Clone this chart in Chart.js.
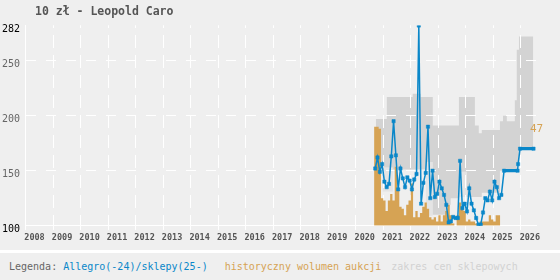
<!DOCTYPE html>
<html>
<head>
<meta charset="utf-8">
<script src="https://cdn.jsdelivr.net/npm/chart.js@4"></script>
<style>
  body { margin: 0; background: #efefef; font-family: "DejaVu Sans Mono", monospace; }
  #wrap { position: relative; width: 560px; height: 280px; }
  #chart { display: block; }
  #title { position: absolute; left: 35px; top: 4px; font-size: 11.5px; font-weight: bold; color: #555; }
  #legend { position: absolute; left: 0; top: 250px; width: 551px; height: 27px; border-top: 3px solid #fff;
            padding-left: 9px; font-size: 10px; line-height: 27px; white-space: pre; color: #666; }
</style>
</head>
<body>
<div id="wrap">
  <canvas id="chart" width="560" height="250"></canvas>
  <div id="title">10 zł - Leopold Caro</div>
  <div id="legend">Legenda: <span style="color:#0a87c9">Allegro(-24)/sklepy(25-)</span><span style="color:#d6a354;margin-left:17px">historyczny wolumen aukcji</span><span style="color:#d2d2d2;margin-left:10px">zakres cen sklepowych</span></div>
</div>
<script>
// axis ticks
const yearTicks = [2008, 2009, 2010, 2011, 2012, 2013, 2014, 2015, 2016, 2017,
                   2018, 2019, 2020, 2021, 2022, 2023, 2024, 2025, 2026];
const priceTicks = [100, 150, 200, 250, 282];

// Allegro prices, one per month starting Sep 2020
const allegroFrom = [2020, 9];
const allegroPrices = [152, 162, 149, 156, 140, 135, 138, 163, 195, 164,
                       133, 152, 143, 135, 144, 141, 133, 142, 147, 282,
                       120, 139, 148, 190, 125, 150, 126, 129, 140, 134,
                       128, 119, 103, 104, 108, 107, 107, 159, 116, 120,
                       113, 134, 120, 114, 107, 101, 101, 112, 125, 123,
                       131, 123, 140, 135, 125, 128];

// shop prices (2025-)
const shopYears = [2025.39, 2025.88, 2025.90, 2025.97, 2026.46];
const shopPrices = [150, 150, 156, 170, 170];

// auction volume per month, starting Sep 2020
const volumeFrom = [2020, 9];
const auctionVolume = [2, 47, 47, 46, 13, 12, 7, 12, 15, 12,
                       28, 18, 9, 8, 5, 10, 12, 20, 4, 7,
                       4, 6, 9, 11, 8, 4, 3, 4, 2, 5,
                       2, 5, 7, 10, 5, 1, 0, 5, 11, 9,
                       7, 2, 3, 2, 2, 1, 1, 2, 2, 2,
                       2, 5, 3, 2, 5];

// shop price range (steps)
const rangeYears = [2020.73, 2020.98, 2021.13, 2021.35, 2022.07, 2022.36, 2022.55, 2022.80,
                    2023.35, 2023.45, 2023.75, 2024.04, 2024.33, 2024.47, 2024.58, 2025.24,
                    2025.35, 2025.49, 2025.78, 2025.85, 2025.93, 2026.00, 2026.45];
const rangeHigh = [190, 197, 197, 217, 217, 220, 217, 217, 191, 191, 191, 217, 217, 191, 184, 187,
                   195, 200, 195, 214, 260, 272, 272];
const rangeLow = [150, 153, 153, 153, 151, 151, 151, 158, 110, 119, 125, 149, 126, 126, 126, 130,
                  150, 150, 150, 150, 156, 170, 170];
const rangeLowest = [150, 153, 131, 131, 151, 151, 151, 109, 110, 119, 125, 126, 126, 126, 126, 130,
                     150, 150, 150, 150, 156, 170, 170];

const BLUE = '#0a87c9';
const ORANGE = '#d6a354';

const monthMid = (from, i) => from[0] + (from[1] - 1 + i + 0.5) / 12;
const monthStart = (from, i) => from[0] + (from[1] - 1 + i) / 12;

const pricePoints = allegroPrices.map((v, i) => ({ x: monthMid(allegroFrom, i), y: v }))
  .concat(shopPrices.map((v, i) => ({ x: shopYears[i], y: v })));

const volumePoints = auctionVolume.map((v, i) => ({ x: monthStart(volumeFrom, i), y: v }));
volumePoints.push({ x: monthStart(volumeFrom, auctionVolume.length), y: auctionVolume[auctionVolume.length - 1] });

const steps = arr => arr.map((v, i) => ({ x: rangeYears[i], y: v }));
const bandOpts = { type: 'line', stepped: 'after', borderWidth: 0, pointRadius: 0 };

// redraw the grid on top of the price range band
const gridOverBand = {
  id: 'gridOverBand',
  afterDatasetDraw(chart, args) {
    if (args.index !== 2) return;
    chart.scales.x.drawGrid(chart.chartArea);
    chart.scales.y.drawGrid(chart.chartArea);
  }
};

// label with the biggest auction volume
const peakLabel = {
  id: 'peakLabel',
  afterDatasetsDraw(chart) {
    const peak = Math.max(...auctionVolume);
    const ctx = chart.ctx;
    ctx.save();
    ctx.font = '11px "DejaVu Sans Mono"';
    ctx.fillStyle = ORANGE;
    ctx.textAlign = 'left';
    ctx.textBaseline = 'middle';
    ctx.fillText(String(peak), chart.chartArea.right - 6, chart.scales.y2.getPixelForValue(peak) + 2);
    ctx.restore();
  }
};

Chart.defaults.font.family = '"DejaVu Sans Mono", monospace';

new Chart(document.getElementById('chart'), {
  type: 'line',
  data: {
    datasets: [
      {
        label: 'Allegro(-24)/sklepy(25-)',
        data: pricePoints,
        borderColor: BLUE,
        backgroundColor: BLUE,
        borderWidth: 1.5,
        pointStyle: 'rect',
        pointRadius: 2.3,
        pointBorderWidth: 0.5,
        segment: {
          borderWidth: c => (c.p0.parsed.x >= shopYears[0] && c.p0.parsed.y === c.p1.parsed.y) ? 3.2 : 1.5
        }
      },
      {
        label: 'historyczny wolumen aukcji',
        data: volumePoints,
        yAxisID: 'y2',
        stepped: 'after',
        fill: 'origin',
        backgroundColor: ORANGE,
        borderWidth: 0,
        pointRadius: 0
      },
      { ...bandOpts, label: 'zakres cen sklepowych', data: steps(rangeHigh), fill: '+1', backgroundColor: '#d3d3d3' },
      { ...bandOpts, data: steps(rangeLow), fill: false },
      { ...bandOpts, data: steps(rangeLow), fill: '+1', backgroundColor: '#e4e4e4' },
      { ...bandOpts, data: steps(rangeLowest), fill: false }
    ]
  },
  options: {
    responsive: false,
    animation: false,
    devicePixelRatio: 1,
    layout: { padding: { top: 25.5, right: 24, left: 0, bottom: 0 } },
    plugins: { legend: { display: false }, tooltip: { enabled: false }, title: { display: false } },
    elements: { line: { tension: 0 } },
    scales: {
      x: {
        type: 'linear',
        min: 2008,
        max: 2026.55,
        afterBuildTicks: s => { s.ticks = yearTicks.map(v => ({ value: v })); },
        afterFit: s => { s.height = 24.3; },
        ticks: {
          autoSkip: false, maxRotation: 0, labelOffset: 9, padding: 3, color: '#555',
          font: { size: 8.5, weight: 'bold' },
          callback: v => String(v)
        },
        grid: {
          color: c => (c.tick && c.tick.value === 2008) ? 'rgba(0,0,0,0)' : '#fff',
          tickColor: '#fff', tickLength: 4, lineWidth: 1
        },
        border: { color: '#fff', width: 1, dash: [13, 7], dashOffset: 10.5 }
      },
      y: {
        min: 100,
        max: 282,
        afterBuildTicks: s => { s.ticks = priceTicks.map(v => ({ value: v })); },
        afterFit: s => { s.width = 25.5; },
        ticks: {
          padding: 5.5, labelOffset: 4, font: { size: 10 },
          color: c => (c.tick.value === 100 || c.tick.value === 282) ? '#000' : '#666'
        },
        grid: {
          drawTicks: false,
          color: c => [150, 200, 250].includes(c.tick.value) ? '#fff' : 'rgba(0,0,0,0)'
        },
        border: { color: '#fff', width: 1, dash: [10, 10] }
      },
      y2: { display: false, min: 0, max: 95 }
    }
  },
  plugins: [gridOverBand, peakLabel]
});
</script>
</body>
</html>
